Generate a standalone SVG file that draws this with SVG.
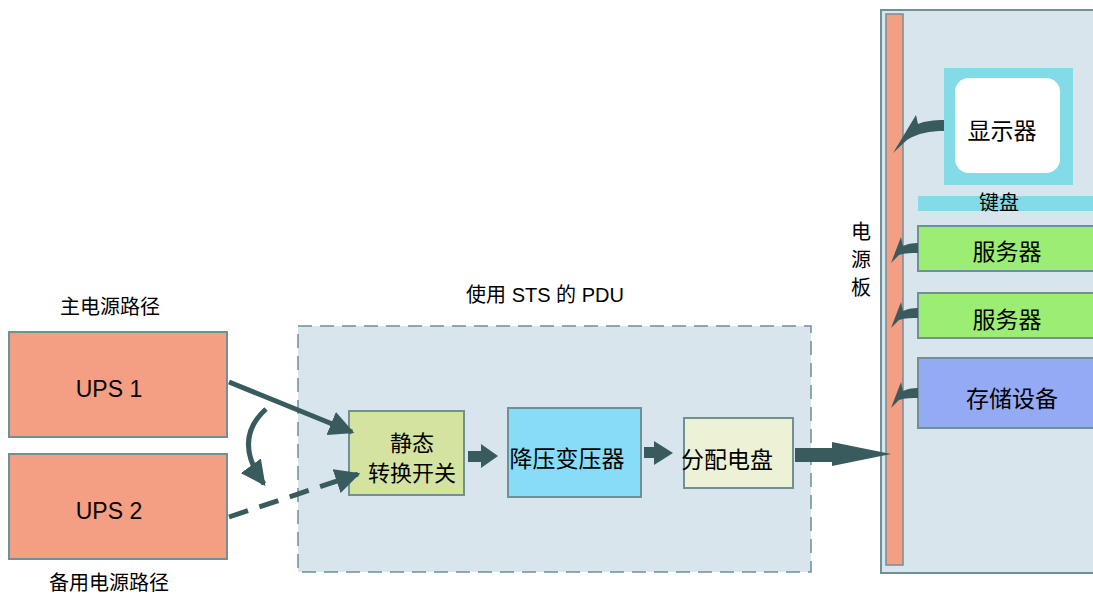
<svg xmlns="http://www.w3.org/2000/svg" width="1093" height="594" viewBox="0 0 1093 594">
<style>
text{font-family:"Liberation Sans","Noto Sans CJK SC",sans-serif;fill:#000;text-anchor:middle;dominant-baseline:central}
.bx{stroke:#6f9096;stroke-width:2}
.ar{fill:#395b5e}
.ln{stroke:#395b5e;stroke-width:5;fill:none}
</style>
<defs>
<marker id="ah" viewBox="0 0 10 10" refX="9" refY="5" markerWidth="5" markerHeight="5" orient="auto" markerUnits="strokeWidth">
<path d="M0,0 L10,5 L0,10 Z" fill="#395b5e"/>
</marker>
<path id="sa" d="M0,0 C-6,0 -11,1 -15,3 L-17,-6 L-27,20 L-19,12 C-13,10 -6,10 0,10 Z" fill="#395b5e"/>
</defs>
<rect width="1093" height="594" fill="#fff"/>

<g id="rack">
<rect x="881" y="10" width="220" height="563" fill="#d8e5ec" stroke="#6f9096" stroke-width="2"/>
<rect x="886" y="14" width="17" height="551" fill="#f49f84" stroke="#6f9096" stroke-width="1.5"/>
<text x="861" y="232" font-size="20">电</text>
<text x="861" y="260" font-size="20">源</text>
<text x="861" y="288" font-size="20">板</text>
</g>
<g id="monitor">
<rect x="944" y="68" width="129" height="117" fill="#84dbe8"/>
<rect x="955" y="78" width="105" height="95" rx="14" fill="#fff"/>
<text x="1002" y="131" font-size="23">显示器</text>
</g>
<g id="keyboard">
<rect x="918" y="196" width="180" height="15" fill="#84dbe8"/>
<text x="999" y="203" font-size="20">键盘</text>
</g>
<g id="server1">
<rect class="bx" x="918" y="226" width="180" height="45" fill="#9bee73"/>
<text x="1007" y="252" font-size="23">服务器</text>
</g>
<g id="server2">
<rect class="bx" x="918" y="293" width="180" height="45" fill="#9bee73"/>
<text x="1007" y="320" font-size="23">服务器</text>
</g>
<g id="storage">
<rect class="bx" x="918" y="358" width="180" height="70" fill="#94aaf5"/>
<text x="1012" y="399" font-size="23">存储设备</text>
</g>

<g id="ups1">
<text x="110" y="307" font-size="20">主电源路径</text>
<rect class="bx" x="9" y="332" width="218" height="105" fill="#f49f84"/>
<text x="109" y="389" font-size="23">UPS 1</text>
</g>
<g id="ups2">
<rect class="bx" x="9" y="454" width="218" height="105" fill="#f49f84"/>
<text x="109" y="511" font-size="23">UPS 2</text>
<text x="109" y="583" font-size="20">备用电源路径</text>
</g>

<g id="pdu">
<rect x="298" y="326" width="513" height="246" fill="#d8e5ec" stroke="#6f9096" stroke-width="1.5" stroke-dasharray="14,8"/>
<text x="545" y="295" font-size="20">使用 STS 的 PDU</text>
</g>
<g id="sts">
<rect class="bx" x="349" y="411" width="115" height="84" fill="#d4e3a0"/>
<text x="412" y="443" font-size="22">静态</text>
<text x="412" y="473" font-size="22">转换开关</text>
</g>
<g id="transformer">
<rect class="bx" x="508" y="408" width="133" height="89" fill="#89dcf8"/>
<text x="567" y="459" font-size="23">降压变压器</text>
</g>
<g id="distribution">
<rect class="bx" x="684" y="418" width="109" height="70" fill="#edf2d6"/>
<text x="727" y="460" font-size="23">分配电盘</text>
</g>

<g id="connectors">
<line class="ln" x1="229" y1="382" x2="352" y2="432" marker-end="url(#ah)"/>
<line class="ln" x1="229" y1="517" x2="358" y2="474" stroke-dasharray="20,12" marker-end="url(#ah)"/>
<path class="ln" d="M266,409 Q232,440 264,484" stroke-width="4.5" marker-end="url(#ah)"/>
<path class="ar" d="M468,451 L481,451 L481,444 L498,456 L481,468 L481,462 L468,462 Z"/>
<path class="ar" d="M644,447 L654,447 L654,441 L673,453 L654,465 L654,458 L644,458 Z"/>
<path class="ar" d="M795,448 L832,448 L832,442 L891,454 L832,466 L832,462 L795,462 Z"/>
<path class="ar" d="M944,120 C934,120 925,121 918,124 L916,115 L893,153 L907,140 C918,133 930,131 944,131 Z"/>
<use href="#sa" x="918" y="243"/>
<use href="#sa" x="918" y="308"/>
<use href="#sa" x="918" y="388"/>
</g>
</svg>
